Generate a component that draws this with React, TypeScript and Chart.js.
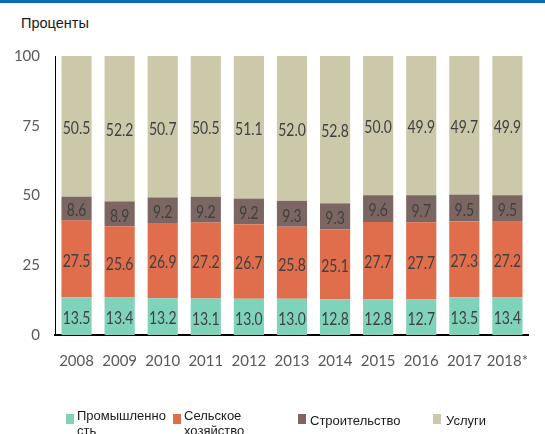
import { useEffect, useRef } from "react";
import { Chart, registerables } from "chart.js";

Chart.register(...registerables);

// ---- data ----
const years = ["2008", "2009", "2010", "2011", "2012", "2013", "2014", "2015", "2016", "2017", "2018*"];
const seriesNames = ["Промышленность", "Сельское хозяйство", "Строительство", "Услуги"];
const industry = [13.5, 13.4, 13.2, 13.1, 13.0, 13.0, 12.8, 12.8, 12.7, 13.5, 13.4];
const agriculture = [27.5, 25.6, 26.9, 27.2, 26.7, 25.8, 25.1, 27.7, 27.7, 27.3, 27.2];
const construction = [8.6, 8.9, 9.2, 9.2, 9.2, 9.3, 9.3, 9.6, 9.7, 9.5, 9.5];
const services = [50.5, 52.2, 50.7, 50.5, 51.1, 52.0, 52.8, 50.0, 49.9, 49.7, 49.9];
const yTickValues = [0, 25, 50, 75, 100];
const yAxisTitle = "Проценты";

const seriesValues = [industry, agriculture, construction, services];
const seriesColors = ["#7fd3bb", "#e06d4b", "#7b6662", "#cbc9a9"];

const CHART_FONT = 'Lato, "Liberation Sans", sans-serif';

const valueLabels = {
  id: "valueLabels",
  afterDatasetsDraw(chart: any) {
    const ctx = chart.ctx;
    ctx.save();
    ctx.font = `15px ${CHART_FONT}`;
    ctx.fillStyle = "#404040";
    ctx.textAlign = "center";
    ctx.textBaseline = "middle";
    chart.data.datasets.forEach((ds: any, i: number) => {
      const meta = chart.getDatasetMeta(i);
      meta.data.forEach((bar: any, j: number) => {
        const p = bar.getProps(["x", "y", "base"], true);
        const top = Math.max(p.y, chart.chartArea.top);
        const cy = (top + p.base) / 2 + 2;
        ctx.save();
        ctx.translate(p.x, cy);
        ctx.scale(0.93, 1.2);
        ctx.fillText(Number(ds.data[j]).toFixed(1), 0, 0);
        ctx.restore();
      });
    });
    ctx.restore();
  },
};

export default function App() {
  const ref = useRef<HTMLCanvasElement | null>(null);

  useEffect(() => {
    if (!ref.current) return;
    const chart = new Chart(ref.current, {
      type: "bar",
      data: {
        labels: years,
        datasets: seriesNames.map((name, i) => ({
          label: name,
          data: seriesValues[i],
          backgroundColor: seriesColors[i],
          borderWidth: 0,
          barPercentage: 0.7,
          categoryPercentage: 1,
        })),
      },
      options: {
        responsive: false,
        animation: false,
        layout: { padding: { top: 56, left: 0, right: 0, bottom: 59 } },
        plugins: {
          legend: { display: false },
          tooltip: { enabled: false },
        },
        scales: {
          x: {
            stacked: true,
            grid: { display: false, drawTicks: false },
            border: { display: true, color: "#000000", width: 2 },
            ticks: {
              color: "#595959",
              font: { family: CHART_FONT, size: 15 },
              padding: 17,
              maxRotation: 0,
              autoSkip: false,
            },
            afterFit: (s: any) => {
              s.height = 40;
            },
          },
          y: {
            stacked: true,
            min: 0,
            max: 100,
            grid: { display: false, drawTicks: false },
            border: { display: true, color: "#000000", width: 1 },
            afterBuildTicks: (s: any) => {
              s.ticks = yTickValues.map((v) => ({ value: v }));
            },
            ticks: {
              color: "#595959",
              font: { family: CHART_FONT, size: 15 },
              padding: 15,
            },
            afterFit: (s: any) => {
              s.width = 55;
            },
          },
        },
      },
      plugins: [valueLabels],
    });
    return () => chart.destroy();
  }, []);

  const legendPos = [
    { sw: 66, tx: 77, w: 90, top: 407.5 },
    { sw: 173, tx: 184, w: 80, top: 407.5 },
    { sw: 298, tx: 310, w: 120, top: 412.5 },
    { sw: 433, tx: 446, w: 90, top: 412.5 },
  ];

  return (
    <div
      style={{
        position: "fixed",
        left: 0,
        top: 0,
        width: 545,
        height: 434,
        overflow: "hidden",
        background: "#ffffff",
      }}
    >
      <div style={{ position: "absolute", left: 0, top: 0, width: 545, height: 3, background: "#0b6bb8" }} />
      <div
        style={{
          position: "absolute",
          left: 21,
          top: 15,
          fontFamily: '"Liberation Sans", Arial, sans-serif',
          fontSize: 14.5,
          color: "#1a1a1a",
          whiteSpace: "nowrap",
        }}
      >
        {yAxisTitle}
      </div>
      <canvas ref={ref} width={545} height={434} style={{ position: "absolute", left: 0, top: 0, width: 545, height: 434 }} />
      {seriesNames.map((name, i) => (
        <div key={name}>
          <div
            style={{
              position: "absolute",
              left: legendPos[i].sw,
              top: 414,
              width: 8,
              height: 10,
              background: seriesColors[i],
            }}
          />
          <div
            style={{
              position: "absolute",
              left: legendPos[i].tx,
              top: legendPos[i].top,
              width: legendPos[i].w,
              fontFamily: '"Liberation Sans", Arial, sans-serif',
              fontSize: 13,
              lineHeight: "15px",
              color: "#1a1a1a",
              overflowWrap: "anywhere",
            }}
          >
            {name}
          </div>
        </div>
      ))}
    </div>
  );
}
